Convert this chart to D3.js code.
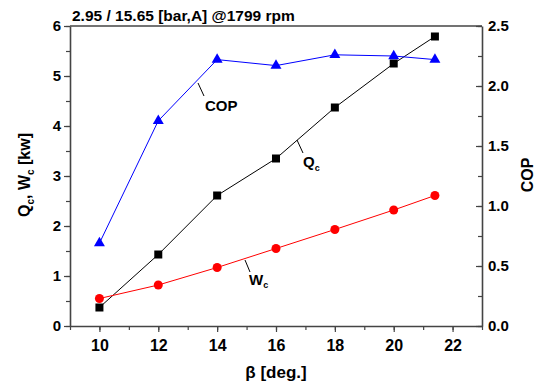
<!DOCTYPE html>
<html lang="en">
<head>
<meta charset="UTF-8">
<title>Qc Wc COP</title>
<script src="https://cdn.jsdelivr.net/npm/d3@7/dist/d3.min.js"></script>
<style>
    body { margin: 0; background: #ffffff; }
    svg text { font-family: "Liberation Sans", Arial, sans-serif; font-weight: bold; fill: #000; }
</style>
</head>
<body>
<div id="chart"></div>
<script>
    var WIDTH = 540, HEIGHT = 390;
    var LEFT = 70, RIGHT = 482, TOP = 26, BOTTOM = 326;

    var BETA = [10, 12, 14, 16, 18, 20, 21.4];
    var QC = [0.37, 1.43, 2.61, 3.35, 4.37, 5.25, 5.79];
    var WC = [0.55, 0.82, 1.17, 1.55, 1.93, 2.32, 2.61];
    var COP = [0.69, 1.71, 2.22, 2.17, 2.26, 2.25, 2.22];

    var X_TICKS = [10, 12, 14, 16, 18, 20, 22];
    var Y_TICKS = [0, 1, 2, 3, 4, 5, 6];
    var COP_TICKS = [0, 0.5, 1.0, 1.5, 2.0, 2.5];

    var AXIS_COLOR = "#444";

    var svg = d3.select("#chart").append("svg")
        .attr("width", WIDTH)
        .attr("height", HEIGHT);

    var x = d3.scaleLinear().domain([9, 23]).range([LEFT, RIGHT]);
    var y = d3.scaleLinear().domain([0, 6]).range([BOTTOM, TOP]);
    var yCop = d3.scaleLinear().domain([0, 2.5]).range([BOTTOM, TOP]);

    // frame top line
    svg.append("line")
        .attr("x1", LEFT).attr("x2", RIGHT)
        .attr("y1", TOP).attr("y2", TOP)
        .attr("stroke", AXIS_COLOR).attr("stroke-width", 1.6);

    function styleAxis(g, size) {
        g.select(".domain").attr("stroke", AXIS_COLOR).attr("stroke-width", 1.6);
        g.selectAll(".tick line").attr("stroke", AXIS_COLOR).attr("stroke-width", 1.2);
        g.selectAll("text").style("font-size", (size || 15) + "px").attr("fill", "#000");
    }

    // minor ticks first
    svg.append("g").attr("transform", "translate(0," + BOTTOM + ")")
        .call(d3.axisBottom(x).tickValues(d3.range(9, 24, 1)).tickSize(4).tickFormat("").tickSizeOuter(0))
        .call(styleAxis);
    svg.append("g").attr("transform", "translate(" + LEFT + ",0)")
        .call(d3.axisLeft(y).tickValues(d3.range(0, 6.01, 0.5)).tickSize(4).tickFormat("").tickSizeOuter(0))
        .call(styleAxis);
    svg.append("g").attr("transform", "translate(" + RIGHT + ",0)")
        .call(d3.axisLeft(yCop).tickValues(d3.range(0, 2.51, 0.25)).tickSize(4).tickFormat("").tickSizeOuter(0))
        .call(styleAxis);

    // major ticks
    var xAxis = svg.append("g").attr("transform", "translate(0," + BOTTOM + ")")
        .call(d3.axisBottom(x).tickValues(X_TICKS).tickSize(6).tickPadding(8).tickSizeOuter(0))
        .call(styleAxis, 16);
    xAxis.select(".domain").remove();

    var yAxis = svg.append("g").attr("transform", "translate(" + LEFT + ",0)")
        .call(d3.axisLeft(y).tickValues(Y_TICKS).tickSize(6).tickPadding(3).tickFormat(d3.format("d")).tickSizeOuter(0))
        .call(styleAxis, 15);
    yAxis.select(".domain").remove();

    var copAxis = svg.append("g").attr("transform", "translate(" + RIGHT + ",0)")
        .call(d3.axisRight(yCop).tickValues(COP_TICKS).tickSize(0).tickPadding(6).tickFormat(d3.format(".1f")).tickSizeOuter(0))
        .call(styleAxis, 15);
    copAxis.select(".domain").remove();
    copAxis.selectAll(".tick").append("line")
        .attr("x1", -6).attr("x2", 0)
        .attr("stroke", AXIS_COLOR).attr("stroke-width", 1.2);

    // series
    function seriesData(vals) {
        return BETA.map(function(b, i) { return [b, vals[i]]; });
    }
    var lineQ = d3.line().x(function(d) { return x(d[0]); }).y(function(d) { return y(d[1]); });
    var lineC = d3.line().x(function(d) { return x(d[0]); }).y(function(d) { return yCop(d[1]); });

    svg.append("path").datum(seriesData(QC)).attr("d", lineQ)
        .attr("fill", "none").attr("stroke", "#000").attr("stroke-width", 1);
    svg.append("path").datum(seriesData(WC)).attr("d", lineQ)
        .attr("fill", "none").attr("stroke", "#ff0000").attr("stroke-width", 1);
    svg.append("path").datum(seriesData(COP)).attr("d", lineC)
        .attr("fill", "none").attr("stroke", "#0000ff").attr("stroke-width", 1);

    svg.selectAll("rect.qc").data(seriesData(QC)).enter().append("rect")
        .attr("class", "qc")
        .attr("x", function(d) { return x(d[0]) - 4; })
        .attr("y", function(d) { return y(d[1]) - 4; })
        .attr("width", 8).attr("height", 8)
        .attr("fill", "#000");

    svg.selectAll("circle.wc").data(seriesData(WC)).enter().append("circle")
        .attr("class", "wc")
        .attr("cx", function(d) { return x(d[0]); })
        .attr("cy", function(d) { return y(d[1]); })
        .attr("r", 4.5)
        .attr("fill", "#ff0000");

    var tri = d3.symbol().type(d3.symbolTriangle).size(52);
    svg.selectAll("path.cop").data(seriesData(COP)).enter().append("path")
        .attr("class", "cop")
        .attr("d", tri)
        .attr("transform", function(d) { return "translate(" + x(d[0]) + "," + yCop(d[1]) + ")"; })
        .attr("fill", "#0000ff");

    // annotations
    function leader(x1, y1, x2, y2) {
        svg.append("line").attr("x1", x1).attr("y1", y1).attr("x2", x2).attr("y2", y2)
            .attr("stroke", "#000").attr("stroke-width", 1);
    }
    leader(198, 83, 204, 96);
    svg.append("text").attr("x", 205).attr("y", 111).style("font-size", "15px").text("COP");

    leader(297, 140, 303, 153);
    var qLab = svg.append("text").attr("x", 303).attr("y", 167).style("font-size", "15px");
    qLab.append("tspan").text("Q");
    qLab.append("tspan").attr("dy", 4).style("font-size", "9px").text("c");

    leader(245, 260, 250, 272);
    var wLab = svg.append("text").attr("x", 249).attr("y", 285).style("font-size", "15px");
    wLab.append("tspan").text("W");
    wLab.append("tspan").attr("dy", 3).style("font-size", "9px").text("c");

    // titles
    svg.append("text").attr("x", 72).attr("y", 21).style("font-size", "15.5px")
        .text("2.95 / 15.65 [bar,A] @1799 rpm");

    svg.append("text").attr("x", (LEFT + RIGHT) / 2).attr("y", 378)
        .attr("text-anchor", "middle").style("font-size", "17px")
        .text("\u03b2 [deg.]");

    var yLab = svg.append("text")
        .attr("transform", "translate(30,175) rotate(-90)")
        .attr("text-anchor", "middle").style("font-size", "16px");
    yLab.append("tspan").text("Q");
    yLab.append("tspan").attr("dy", 4).style("font-size", "10px").text("c");
    yLab.append("tspan").attr("dy", -4).text(", W");
    yLab.append("tspan").attr("dy", 4).style("font-size", "10px").text("c");
    yLab.append("tspan").attr("dy", -4).text(" [kw]");

    svg.append("text")
        .attr("transform", "translate(533,175) rotate(-90)")
        .attr("text-anchor", "middle").style("font-size", "16px")
        .text("COP");
</script>
</body>
</html>
